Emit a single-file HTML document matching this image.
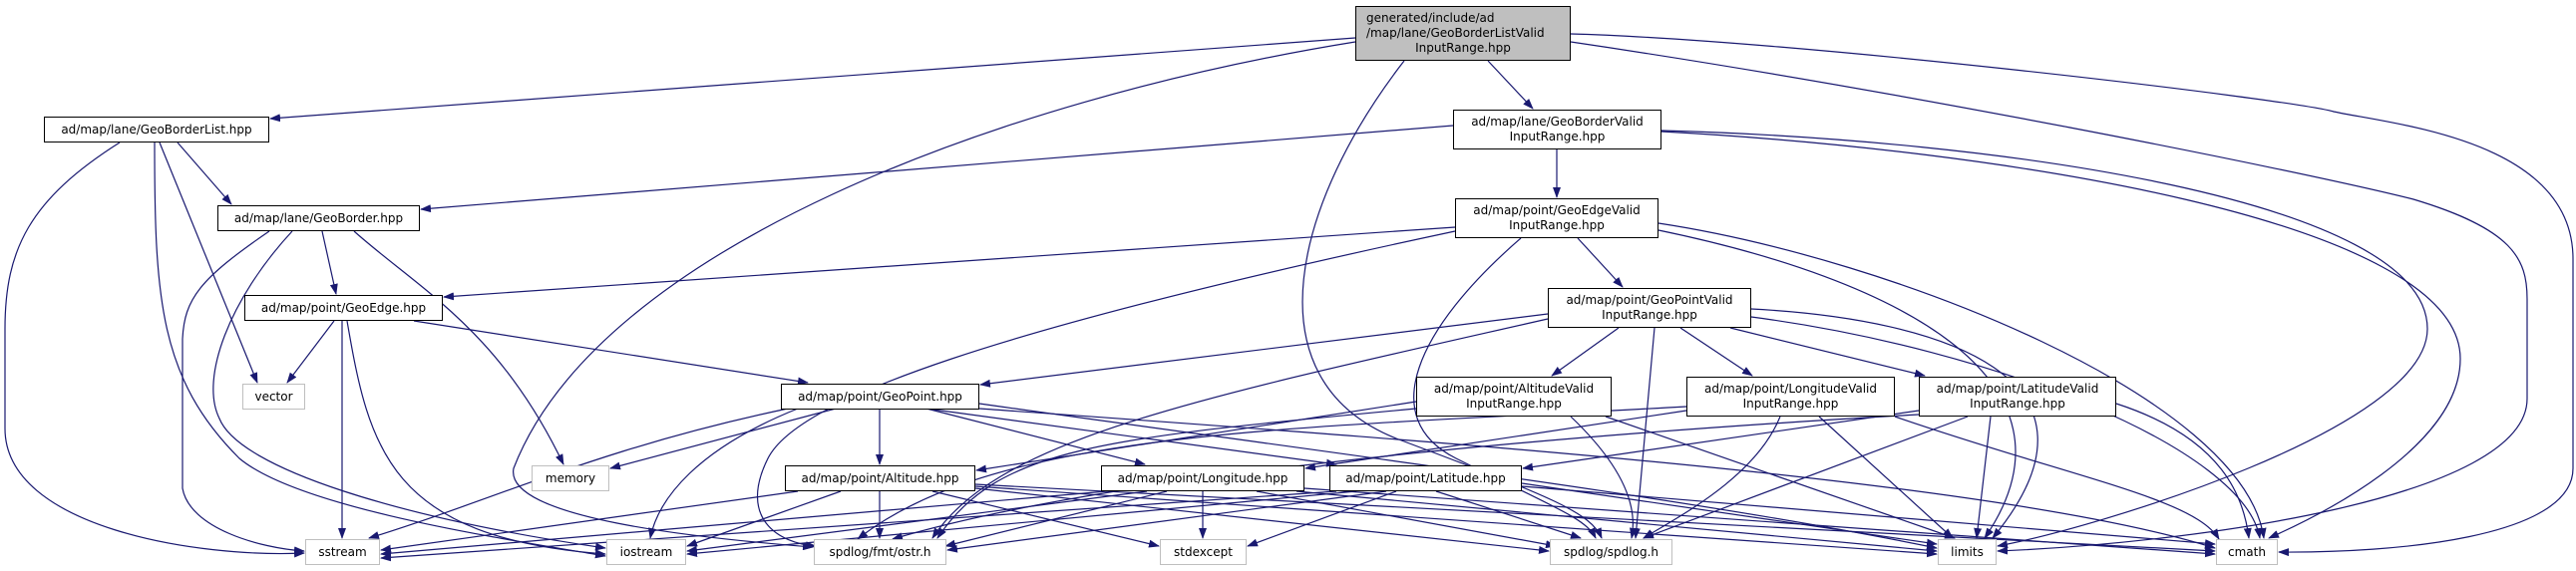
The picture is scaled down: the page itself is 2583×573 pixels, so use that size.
<!DOCTYPE html>
<html><head><meta charset="utf-8"><style>
html,body{margin:0;padding:0;background:#fff;}
#c{position:relative;width:2583px;height:573px;overflow:hidden;background:#fff;}
svg{position:absolute;left:0;top:0;}
.n{position:absolute;box-sizing:border-box;border:1.5px solid #000;background:#fff;font-family:"DejaVu Sans","Liberation Sans",sans-serif;font-size:12px;line-height:15px;color:#000;text-align:center;display:flex;flex-direction:column;justify-content:center;white-space:nowrap;}
.g{border:1.5px solid #bfbfbf;}
.top{background:#bfbfbf;}
</style></head><body><div id="c">
<svg width="2583" height="573" viewBox="0 0 2583 573">
<defs><marker id="a" markerWidth="11" markerHeight="8" refX="10" refY="4" orient="auto" markerUnits="userSpaceOnUse"><path d="M0,0 L11,4 L0,8 z" fill="#191970"/></marker></defs>
<g fill="none" stroke="#191970" stroke-width="1.2" marker-end="url(#a)">
<!-- top -->
<path d="M1359,38 L271,119"/>
<path d="M1492,61 L1537,109"/>
<path d="M1359,42 C1000,100 600,250 515,470 C505,520 700,540 815,549"/>
<path d="M1408,61 C1300,200 1250,380 1400,440 C1560,500 1595,515 1606,540"/>
<path d="M1575,42 C1900,90 2300,170 2420,200 C2520,230 2534,260 2534,300 L2534,400 C2534,500 2200,545 2003,553"/>
<path d="M1575,34 C1800,40 2300,100 2340,112 C2400,125 2580,140 2580,260 L2580,470 C2580,540 2400,555 2285,554"/>
<!-- GeoBorderList -->
<path d="M178,143 L232,205"/>
<path d="M160,143 L258,384"/>
<path d="M120,143 C30,200 5,250 5,330 L5,430 C5,530 200,560 305,555"/>
<path d="M155,143 C155,300 160,380 240,460 C300,510 500,540 607,558"/>
<!-- GeoBorder -->
<path d="M323,232 L337,295"/>
<path d="M355,232 C420,290 500,330 565,466"/>
<path d="M270,232 C200,280 185,300 183,340 L183,490 C190,530 260,550 305,553"/>
<path d="M293,232 C230,300 200,380 220,420 C240,470 400,520 607,550"/>
<!-- GeoEdge -->
<path d="M335,322 L288,384"/>
<path d="M415,322 L810,384"/>
<path d="M343,322 L343,540"/>
<path d="M348,322 C370,450 390,540 607,556"/>
<!-- GeoPoint -->
<path d="M838,410 L612,470"/>
<path d="M882,410 L882,466"/>
<path d="M929,410 L1148,466"/>
<path d="M929,410 L1340,466"/>
<path d="M982,405 C1300,450 1700,500 1942,550"/>
<path d="M982,410 C1400,440 2000,480 2221,550"/>
<path d="M790,410 C600,450 500,500 370,540"/>
<path d="M800,410 C700,450 660,500 652,540"/>
<!-- GeoBorderValid -->
<path d="M1457,126 L422,210"/>
<path d="M1561,150 L1561,198"/>
<path d="M1666,131 C2000,140 2434,200 2434,330 C2434,430 2100,530 2003,548"/>
<path d="M1666,132 C2000,150 2467,220 2467,360 C2467,450 2320,520 2275,540"/>
<!-- GeoEdgeValid -->
<path d="M1459,228 L445,298"/>
<path d="M1459,232 C1000,330 800,400 770,460 C740,520 780,545 818,548"/>
<path d="M1582,239 L1627,288"/>
<path d="M1525,239 C1420,330 1380,420 1460,460 C1560,510 1590,520 1600,540"/>
<path d="M1663,231 C1900,280 2100,380 1990,540"/>
<path d="M1663,224 C1900,260 2250,400 2270,540"/>
<!-- GeoPointValid -->
<path d="M1552,315 L983,386"/>
<path d="M1552,320 C1200,400 1000,440 935,540"/>
<path d="M1623,329 L1556,377"/>
<path d="M1685,329 L1757,377"/>
<path d="M1735,329 L1930,377"/>
<path d="M1659,329 L1640,540"/>
<path d="M1756,310 C1950,320 2130,380 1998,540"/>
<path d="M1756,318 C2000,350 2250,450 2266,540"/>
<!-- AltitudeValid -->
<path d="M1420,403 L979,472"/>
<path d="M1420,410 C1100,440 1000,450 940,540"/>
<path d="M1575,418 C1640,480 1640,520 1636,540"/>
<path d="M1610,418 L1960,540"/>
<!-- LongitudeValid -->
<path d="M1691,412 L1309,470"/>
<path d="M1691,408 C1300,430 1000,430 860,541"/>
<path d="M1785,418 C1760,480 1680,520 1648,540"/>
<path d="M1824,418 L1958,540"/>
<path d="M1900,418 C2080,480 2200,500 2225,541"/>
<!-- LatitudeValid -->
<path d="M1924,412 L1527,470"/>
<path d="M1924,416 C1500,440 1100,480 895,541"/>
<path d="M1973,418 L1648,540"/>
<path d="M1996,418 L1982,540"/>
<path d="M2122,405 C2230,440 2250,500 2255,540"/>
<!-- Altitude -->
<path d="M800,493 L382,552"/>
<path d="M843,493 L689,548"/>
<path d="M882,493 L882,540"/>
<path d="M935,493 L1162,548"/>
<path d="M978,490 L1553,553"/>
<path d="M978,488 L1942,556"/>
<path d="M978,486 L2221,553"/>
<!-- Longitude -->
<path d="M1110,493 L382,556"/>
<path d="M1150,493 L689,553"/>
<path d="M1170,493 L948,548"/>
<path d="M1206,493 L1206,540"/>
<path d="M1260,493 L1560,548"/>
<path d="M1300,493 L1942,553"/>
<path d="M1308,490 L2221,556"/>
<!-- Latitude -->
<path d="M1340,493 L382,560"/>
<path d="M1360,493 L689,556"/>
<path d="M1390,493 L950,552"/>
<path d="M1400,493 L1251,548"/>
<path d="M1440,493 L1585,540"/>
<path d="M1526,485 L1942,546"/>
<path d="M1526,488 L2221,546"/>
</g>
</svg>
<div class="n top" style="left:1359px;top:6px;width:216px;height:55px;text-align:left;padding-left:10px;"><div>generated/include/ad</div><div>/map/lane/GeoBorderListValid</div><div style="text-align:center;margin-left:-10px;">InputRange.hpp</div></div>
<div class="n" style="left:44px;top:117px;width:226px;height:26px;">ad/map/lane/GeoBorderList.hpp</div>
<div class="n" style="left:218px;top:206px;width:203px;height:26px;">ad/map/lane/GeoBorder.hpp</div>
<div class="n" style="left:245px;top:296px;width:199px;height:26px;">ad/map/point/GeoEdge.hpp</div>
<div class="n g" style="left:243px;top:385px;width:63px;height:26px;">vector</div>
<div class="n" style="left:783px;top:385px;width:199px;height:26px;">ad/map/point/GeoPoint.hpp</div>
<div class="n g" style="left:533px;top:467px;width:78px;height:26px;">memory</div>
<div class="n" style="left:787px;top:467px;width:191px;height:26px;">ad/map/point/Altitude.hpp</div>
<div class="n" style="left:1104px;top:467px;width:204px;height:26px;">ad/map/point/Longitude.hpp</div>
<div class="n" style="left:1333px;top:467px;width:193px;height:26px;">ad/map/point/Latitude.hpp</div>
<div class="n g" style="left:306px;top:541px;width:75px;height:26px;">sstream</div>
<div class="n g" style="left:608px;top:541px;width:80px;height:26px;">iostream</div>
<div class="n g" style="left:816px;top:541px;width:133px;height:26px;">spdlog/fmt/ostr.h</div>
<div class="n g" style="left:1163px;top:541px;width:87px;height:26px;">stdexcept</div>
<div class="n g" style="left:1554px;top:541px;width:123px;height:26px;">spdlog/spdlog.h</div>
<div class="n g" style="left:1943px;top:541px;width:59px;height:26px;">limits</div>
<div class="n g" style="left:2222px;top:541px;width:62px;height:26px;">cmath</div>
<div class="n" style="left:1457px;top:110px;width:209px;height:40px;"><div>ad/map/lane/GeoBorderValid</div><div>InputRange.hpp</div></div>
<div class="n" style="left:1459px;top:199px;width:204px;height:40px;"><div>ad/map/point/GeoEdgeValid</div><div>InputRange.hpp</div></div>
<div class="n" style="left:1552px;top:289px;width:204px;height:40px;"><div>ad/map/point/GeoPointValid</div><div>InputRange.hpp</div></div>
<div class="n" style="left:1420px;top:378px;width:196px;height:40px;"><div>ad/map/point/AltitudeValid</div><div>InputRange.hpp</div></div>
<div class="n" style="left:1691px;top:378px;width:209px;height:40px;"><div>ad/map/point/LongitudeValid</div><div>InputRange.hpp</div></div>
<div class="n" style="left:1924px;top:378px;width:198px;height:40px;"><div>ad/map/point/LatitudeValid</div><div>InputRange.hpp</div></div>
</div></body></html>
